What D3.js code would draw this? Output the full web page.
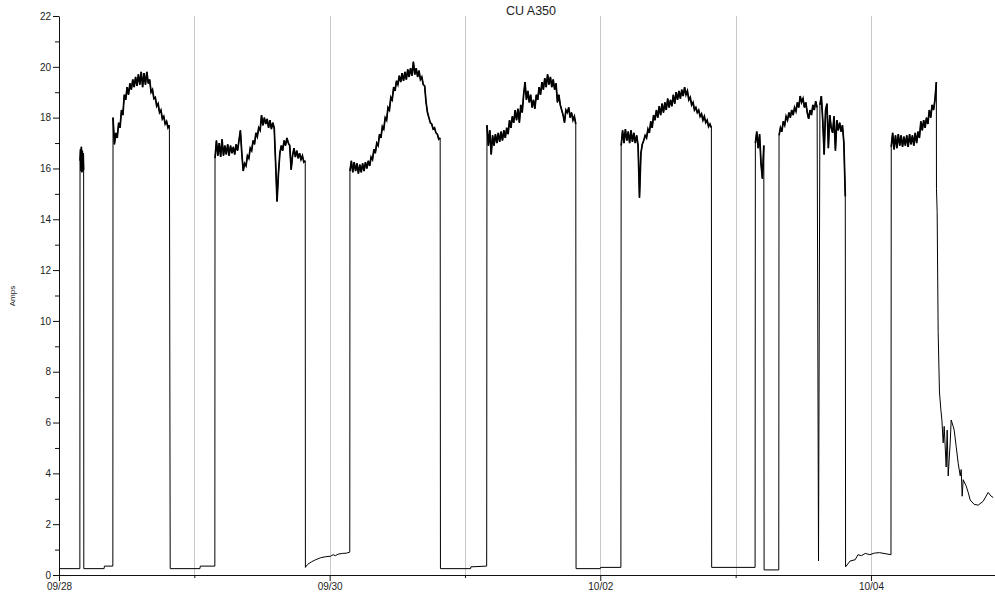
<!DOCTYPE html>
<html>
<head>
<meta charset="utf-8">
<title>CU A350</title>
<script src="https://cdn.jsdelivr.net/npm/d3@7"></script>
<style>
  html, body { margin: 0; padding: 0; background: #fff; }
  svg { display: block; font-family: "Liberation Sans", Arial, Helvetica, sans-serif; }
</style>
</head>
<body>
<svg id="chart" width="995" height="593"></svg>
<script>
// ---- Current log, CU A350 (hours counted from 09/28 00:00) ----
const title = "CU A350";
const yLabel = "Amps";
const dayLabels = ["09/28", "", "09/30", "", "10/02", "", "10/04"];
const yTicks = [0, 1, 2, 3, 4, 5, 6, 7, 8, 9, 10, 11, 12, 13, 14, 15, 16, 17, 18, 19, 20, 21, 22];

// Idle readings between running periods
const idleHours = [0, 3.7,
  4.4, 8.0, 8.05, 9.55,
  19.72, 25.0, 25.05, 27.64,
  43.7, 44.1, 44.8, 45.5, 46.4, 47.3, 48.2, 48.6, 49.0, 49.5, 50.3, 51.0, 51.57,
  67.65, 73.0, 73.05, 75.85,
  91.7, 96.0, 96.05, 99.65,
  115.75, 123.45,
  125.05, 127.65,
  139.5, 140.3, 141.2, 141.7, 142.3, 143.0, 143.8, 144.6, 145.5, 146.5, 147.55];
const idleAmps = [0.25, 0.25,
  0.25, 0.25, 0.35, 0.35,
  0.25, 0.25, 0.35, 0.35,
  0.3, 0.42, 0.52, 0.6, 0.68, 0.72, 0.74, 0.8, 0.76, 0.82, 0.85, 0.86, 0.9,
  0.25, 0.25, 0.32, 0.35,
  0.25, 0.25, 0.3, 0.3,
  0.3, 0.3,
  0.2, 0.2,
  0.32, 0.55, 0.6, 0.8, 0.76, 0.85, 0.8, 0.86, 0.88, 0.84, 0.8];

// Running periods: first sample hour, sample interval (hours), readings
const runStart = [3.73, 9.58, 27.67, 51.6, 75.9, 99.7, 123.5, 127.7, 147.6];
const runStep  = [0.08, 0.25, 0.25, 0.25, 0.25, 0.25, 0.25, 0.25, 0.25];

const run1 = [16.3, 16.75, 15.9, 16.85, 15.85, 16.7, 15.9, 16.6, 15.95];
const run2 = [18.0, 16.95, 17.4, 17.2, 17.8, 17.6, 18.3, 18.1, 18.9, 18.7,
  19.2, 18.9, 19.35, 19.1, 19.5, 19.2, 19.6, 19.25, 19.7, 19.3,
  19.8, 19.2, 19.75, 19.3, 19.8, 19.35, 19.5, 19.0, 19.1, 18.75,
  18.8, 18.45, 18.55, 18.2, 18.3, 17.95, 18.05, 17.75, 17.85, 17.6,
  17.7];
const run3 = [16.4, 17.1, 16.5, 17.0, 16.45, 17.15, 16.5, 16.9, 16.55, 16.95,
  16.5, 16.9, 16.6, 16.85, 16.55, 16.95, 16.7, 17.1, 17.5, 16.6,
  15.9, 16.2, 16.1, 16.5, 16.4, 16.8, 16.7, 17.1, 16.95, 17.4,
  17.25, 17.6, 17.5, 18.1, 17.7, 18.0, 17.75, 17.95, 17.6, 17.9,
  17.55, 17.8, 17.6, 16.2, 14.7, 15.8, 16.6, 16.9, 16.7, 17.1,
  16.9, 17.2, 17.0, 16.9, 15.95, 16.5, 16.8, 16.45, 16.7, 16.4,
  16.6, 16.35, 16.5, 16.25, 16.3];
const run4 = [15.9, 16.3, 15.85, 16.25, 15.9, 16.2, 15.8, 16.15, 15.85, 16.2,
  15.9, 16.25, 16.0, 16.3, 16.1, 16.45, 16.35, 16.75, 16.6, 17.0,
  16.9, 17.35, 17.2, 17.65, 17.55, 18.0, 17.9, 18.4, 18.3, 18.8,
  18.7, 19.2, 19.05, 19.45, 19.3, 19.65, 19.4, 19.75, 19.45, 19.8,
  19.5, 19.9, 19.6, 19.95, 19.65, 20.2, 19.7, 19.95, 19.6, 19.85,
  19.5, 19.6, 19.3, 19.25, 18.6, 18.2, 18.0, 17.8, 17.75, 17.55,
  17.6, 17.4, 17.35, 17.15, 17.2];
const run5 = [17.7, 16.9, 17.5, 16.55, 17.3, 16.9, 17.35, 17.0, 17.4, 17.05,
  17.45, 17.1, 17.5, 17.2, 17.6, 17.35, 17.9, 17.6, 18.05, 17.8,
  18.3, 17.9, 18.35, 17.8, 18.5, 18.2, 18.9, 19.4, 18.7, 19.05,
  18.6, 18.9, 18.4, 18.7, 18.35, 18.9, 18.7, 19.2, 18.9, 19.4,
  19.1, 19.55, 19.2, 19.7, 19.3, 19.6, 19.2, 19.5, 19.1, 19.35,
  18.6, 18.9, 18.5, 18.3, 18.1, 17.8, 18.3, 18.2, 18.4, 18.0,
  18.2, 17.9, 18.05, 17.75];
const run6 = [16.9, 17.5, 17.0, 17.55, 17.1, 17.45, 17.0, 17.5, 17.05, 17.4,
  17.0, 17.3, 16.9, 14.85, 16.6, 16.95, 17.1, 17.3, 17.2, 17.55,
  17.4, 17.85, 17.6, 18.1, 17.9, 18.3, 18.0, 18.45, 18.1, 18.55,
  18.2, 18.6, 18.3, 18.75, 18.4, 18.7, 18.45, 18.9, 18.55, 19.0,
  18.7, 19.05, 18.75, 19.1, 18.85, 19.2, 18.9, 19.05, 18.7, 18.8,
  18.5, 18.6, 18.3, 18.4, 18.2, 18.3, 18.05, 18.15, 17.9, 18.05,
  17.8, 17.9, 17.65, 17.75, 17.6];
const run7 = [17.0, 17.45, 16.8, 17.35, 16.2, 15.6, 16.9];
const run8 = [17.3, 17.6, 17.45, 17.85, 17.7, 18.05, 17.9, 18.2, 18.0, 18.3,
  18.1, 18.4, 18.25, 18.6, 18.4, 18.85, 18.6, 18.75, 18.4, 18.6,
  18.2, 17.95, 18.3, 18.1, 18.5, 18.3, 18.65, 18.4, 0.55, 18.5,
  18.85, 17.9, 16.55, 18.3, 18.55, 16.8, 18.1, 17.6, 17.4, 18.05,
  16.7, 17.9, 17.5, 17.8, 17.45, 17.7, 17.0, 14.9];
const run9 = [16.85, 17.4, 16.75, 17.3, 16.8, 17.35, 16.9, 17.3, 16.85, 17.25,
  16.9, 17.3, 16.85, 17.35, 16.95, 17.3, 16.9, 17.4, 17.0, 17.45,
  17.2, 17.85, 17.5, 17.9, 17.6, 18.0, 17.75, 18.3, 18.0, 18.5,
  18.3, 18.7, 19.4];

// Shutdown at the end of the record
const tailHours = [155.62, 155.74, 155.92, 156.15, 156.4, 156.58, 156.81, 156.99, 157.34, 157.52,
  157.7, 158.05, 158.23, 158.58, 158.76, 159.12, 159.47, 159.83, 160.0, 160.18,
  160.36, 160.89, 161.25, 161.6, 162.31, 163.02, 163.9, 164.79, 165.32, 165.68];
const tailAmps = [15.2, 14.3, 9.55, 7.2, 6.5, 6.1, 5.2, 5.85, 4.25, 5.7,
  3.9, 5.2, 6.1, 5.85, 5.7, 5.05, 4.4, 3.9, 4.15, 3.1,
  3.75, 3.5, 3.25, 2.95, 2.78, 2.75, 2.9, 3.25, 3.1, 3.05];

const endHour = 166;

// ---- Assemble the series ----
const runs = [run1, run2, run3, run4, run5, run6, run7, run8, run9];
const t0 = Date.UTC(2009, 8, 28);
const toDate = h => new Date(t0 + h * 3600e3);

const runSeries = runs.map((vals, r) =>
  vals.map((v, i) => ({ h: runStart[r] + i * runStep[r], v })));

let series = idleHours.map((h, i) => ({ h, v: idleAmps[i] }));
runSeries.forEach(pts => pts.forEach(p => series.push(p)));
series.sort((a, b) => a.h - b.h);
tailHours.forEach((h, i) => series.push({ h, v: tailAmps[i] }));

// Pieces of each run without the momentary dropouts (those stay hairline)
const runPieces = [];
runSeries.forEach(pts => {
  let piece = [pts[0]];
  for (let i = 1; i < pts.length; i++) {
    if (Math.abs(pts[i].v - pts[i - 1].v) > 5) {
      if (piece.length > 1) runPieces.push(piece);
      piece = [];
    }
    piece.push(pts[i]);
  }
  if (piece.length > 1) runPieces.push(piece);
});

// ---- Layout ----
const svg = d3.select("#chart");
const x = d3.scaleUtc().domain([toDate(0), toDate(endHour)]).range([59, 995]);
const y = d3.scaleLinear().domain([0, 22]).range([575, 16]);

const days = d3.utcDay.range(toDate(0), toDate(endHour));

// Daily grid lines
svg.append("g")
  .selectAll("line")
  .data(days.slice(1))
  .join("line")
  .attr("x1", d => Math.round(x(d)) + 0.5)
  .attr("x2", d => Math.round(x(d)) + 0.5)
  .attr("y1", y(22))
  .attr("y2", y(0))
  .attr("stroke", "#c9c9c9")
  .attr("stroke-width", 1);

// X axis
const xAxis = svg.append("g")
  .attr("transform", `translate(0,${y(0)})`)
  .call(d3.axisBottom(x)
    .tickValues(days)
    .tickFormat((d, i) => dayLabels[i])
    .tickSize(6)
    .tickPadding(2)
    .tickSizeOuter(0));
xAxis.selectAll(".tick").filter((d, i) => dayLabels[i] === "")
  .select("line").attr("y2", 3);

// Y axis
const yAxis = svg.append("g")
  .attr("transform", `translate(${x(toDate(0))},0)`)
  .call(d3.axisLeft(y)
    .tickValues(yTicks)
    .tickFormat(d => (d % 2 === 0 ? d : ""))
    .tickSize(6)
    .tickPadding(2)
    .tickSizeOuter(0));
yAxis.selectAll(".tick").filter(d => d % 2 !== 0)
  .select("line").attr("x2", -4);

[xAxis, yAxis].forEach(g => {
  g.select(".domain").attr("stroke", "#111");
  g.selectAll(".tick line").attr("stroke", "#111");
  g.selectAll(".tick text").attr("fill", "#222").style("font-size", "10px")
    .style("font-family", "'Liberation Sans', Arial, sans-serif");
});

// Current trace
const line = d3.line().x(d => x(toDate(d.h))).y(d => y(d.v));
svg.append("path")
  .datum(series)
  .attr("fill", "none")
  .attr("stroke", "#000")
  .attr("stroke-width", 1)
  .attr("d", line);

// Running periods are drawn a little heavier (dense sample noise)
svg.append("g")
  .selectAll("path")
  .data(runPieces)
  .join("path")
  .attr("fill", "none")
  .attr("stroke", "#000")
  .attr("stroke-width", 1.7)
  .attr("d", line);

// Title and axis label
svg.append("text")
  .attr("x", 531)
  .attr("y", 15)
  .attr("text-anchor", "middle")
  .attr("fill", "#222")
  .style("font-size", "12.5px")
  .text(title);

svg.append("text")
  .attr("transform", "translate(15,296) rotate(-90)")
  .attr("text-anchor", "middle")
  .attr("fill", "#222")
  .style("font-size", "8px")
  .text(yLabel);
</script>
</body>
</html>
